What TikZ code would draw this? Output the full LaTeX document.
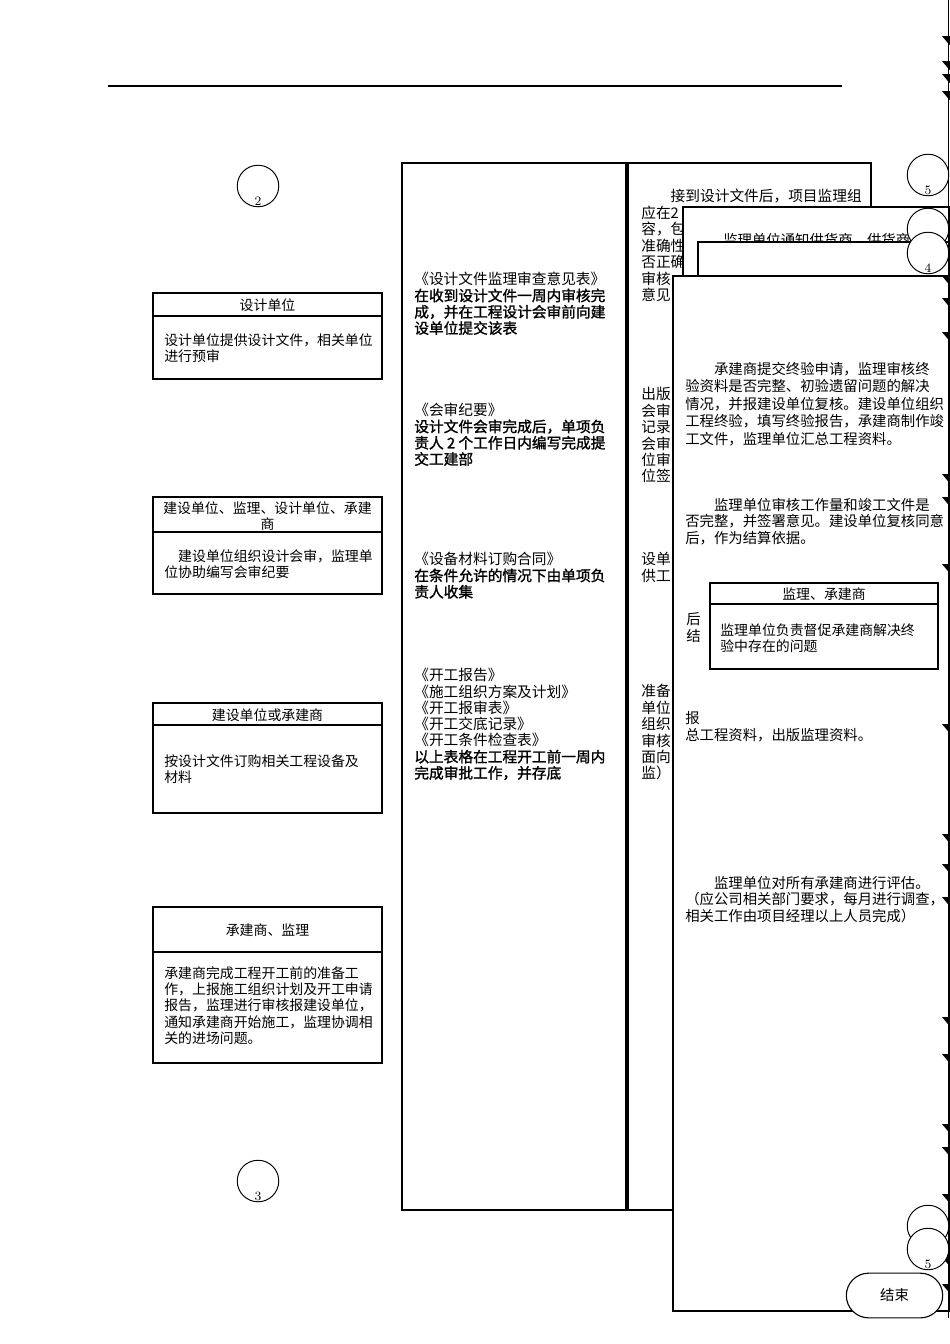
\documentclass[tikz,border=0pt]{standalone}
\usepackage{fontspec}
\newfontfamily\cjk{Noto Sans CJK SC}
\newfontfamily\cjkbf[FakeBold=1.5]{Noto Sans CJK SC}
\usetikzlibrary{shapes.misc}
\tikzset{%
  frame/.style={draw, line width=0.7pt},
  sheet/.style={draw, fill=white, line width=0.8pt},
  conn/.style={circle, draw, fill=white, line width=0.6pt, minimum size=26pt, inner sep=0pt},
  num/.style={font=\rmfamily\fontsize{8}{8}\selectfont, inner sep=0pt, anchor=south},
  head/.style={font=\cjk\fontsize{8.7}{10.2}\selectfont, inner sep=0pt, align=center},
  body/.style={font=\cjk\fontsize{8.7}{10.2}\selectfont, inner sep=0pt, align=left, anchor=north west},
  mid/.style={body, font=\cjk\fontsize{9.2}{10.2}\selectfont},
  wide/.style={body, font=\cjk\fontsize{9}{10.9}\selectfont},
  term/.style={rounded rectangle, draw, fill=white, line width=0.7pt, minimum width=67pt, minimum height=28pt, font=\cjk\fontsize{9}{10}\selectfont}
}
\newcommand{\bd}[1]{{\cjkbf #1}}

\begin{document}
\begin{tikzpicture}[x=0.626pt, y=-0.626pt]
	\useasboundingbox (0,0) rectangle (950,1344);
	\clip (0,0) rectangle (950,1344);
	\draw[frame] (108,86) -- (842,86);
	% left column
	\node[conn] (c2) at (258,186) {};
	\node[num] at ([yshift=1pt]c2.south) {2};
	\draw[frame] (153,293) rectangle (382,379);
	\draw[frame] (153,316) -- (382,316);
	\node[head] (sjdw) at (267.5,305) {设计单位};
	\node[body] (sjdwtxt) at (164,333) {设计单位提供设计文件，相关单位\\进行预审};
	\draw[frame] (153,497) rectangle (382,594);
	\draw[frame] (153,532) -- (382,532);
	\node[head, anchor=north] (hs) at (267.5,501) {建设单位、监理、设计单位、承建\\商};
	\node[body] (hstxt) at (164,549) {\hspace*{1em}建设单位组织设计会审，监理单\\位协助编写会审纪要};
	\draw[frame] (153,703) rectangle (382,813);
	\draw[frame] (153,725) -- (382,725);
	\node[head] (dg) at (267.5,715) {建设单位或承建商};
	\node[body] (dgtxt) at (164,754) {按设计文件订购相关工程设备及\\材料};
	\draw[frame] (153,907) rectangle (382,1063);
	\draw[frame] (153,952) -- (382,952);
	\node[head] (kg) at (267.5,930) {承建商、监理};
	\node[body] (kgtxt) at (164,966) {承建商完成工程开工前的准备工\\作，上报施工组织计划及开工申请\\报告，监理进行审核报建设单位，\\通知承建商开始施工，监理协调相\\关的进场问题。};
	\node[conn] (c3) at (258,1181) {};
	\node[num] at ([yshift=1pt]c3.south) {3};
	% forms column
	\draw[frame] (402,163) rectangle (626,1210);
	\node[mid] (f1) at (414,272) {《设计文件监理审查意见表》\\\bd{在收到设计文件一周内审核完}\\\bd{成，并在工程设计会审前向建}\\\bd{设单位提交该表}};
	\node[mid] (f2) at (414,403) {《会审纪要》\\\bd{设计文件会审完成后，单项负}\\\bd{责人 2 个工作日内编写完成提}\\\bd{交工建部}};
	\node[mid] (f3) at (414,552) {《设备材料订购合同》\\\bd{在条件允许的情况下由单项负}\\\bd{责人收集}};
	\node[mid] (f4) at (414,668) {《开工报告》\\《施工组织方案及计划》\\《开工报审表》\\《开工交底记录》\\《开工条件检查表》\\\bd{以上表格在工程开工前一周内}\\\bd{完成审批工作，并存底}};
	% notes column (mostly covered)
	\draw[frame] (628,163) rectangle (871,1210);
	\node[mid, font=\cjk\fontsize{9.2}{10.3}\selectfont] (n1) at (641,189) {\hspace*{2em}接到设计文件后，项目监理组\\应在2\\容，包\\准确性\\否正确\\审核\\意见};
	\node[mid, font=\cjk\fontsize{9.2}{10.3}\selectfont] (n2) at (641,387) {出版\\会审\\记录，\\会审\\位审\\位签};
	\node[mid, font=\cjk\fontsize{9.2}{10.3}\selectfont] (n3) at (641,552) {设单\\供工};
	\node[mid, font=\cjk\fontsize{9.2}{10.3}\selectfont] (n4) at (641,684) {准备\\单位\\组织\\审核\\面向\\监）};
	% stacked sheets on the right
	\draw[sheet] (683,207) rectangle (949,300);
	\node[wide] (gh) at (723,233) {监理单位通知供货商，供货商};
	\node[conn] (c5) at (928,175) {};
	\node[num] at ([yshift=1pt]c5.south) {5};
	\draw[sheet] (698,242) rectangle (949,300);
	\node[conn] (cx) at (928,229) {};
	\node[conn] (c4) at (928,253) {};
	\node[num] at ([yshift=1pt]c4.south) {4};
	\draw[sheet] (673,276) rectangle (949,1311);
	\node[wide] (zy) at (685,362) {\hspace*{2em}承建商提交终验申请，监理审核终\\验资料是否完整、初验遗留问题的解决\\情况，并报建设单位复核。建设单位组织\\工程终验，填写终验报告，承建商制作竣\\工文件，监理单位汇总工程资料。};
	\node[wide, font=\cjk\fontsize{9}{10.3}\selectfont] (js) at (685,498) {\hspace*{2em}监理单位审核工作量和竣工文件是\\否完整，并签署意见。建设单位复核同意\\后，作为结算依据。};
	\node[wide, font=\cjk\fontsize{9}{10.6}\selectfont] (hj) at (686,612) {后\\结};
	\draw[frame] (710,583) rectangle (938,669);
	\draw[frame] (710,604) -- (938,604);
	\node[head] (jc) at (824,594) {监理、承建商};
	\node[body] (jctxt) at (720,623) {监理单位负责督促承建商解决终\\验中存在的问题};
	\node[wide, font=\cjk\fontsize{9}{10.6}\selectfont] (bz) at (685,711) {报\\总工程资料，出版监理资料。};
	\node[wide, font=\cjk\fontsize{9}{10.3}\selectfont] (pg) at (685,876) {\hspace*{2em}监理单位对所有承建商进行评估。\\（应公司相关部门要求，每月进行调查，\\相关工作由项目经理以上人员完成）};
	% right edge flow line
	\draw[frame] (948.5,0) -- (948.5,1318);
	\foreach \y in {42,67,80,97,282,304,338,480,503,570,730,840,870,903,1023,1060,1130,1153,1200,1263,1290}
		\fill (942,\y-6) -- (957,\y-6) -- (949.5,\y+3) -- cycle;
	\node[conn] (c5b) at (928,1226) {};
	\node[conn] (c5c) at (928,1249) {};
	\node[num] at ([yshift=1pt]c5c.south) {5};
	\node[term] (end) at (894.5,1295.5) {结束};
\end{tikzpicture}
\end{document}
